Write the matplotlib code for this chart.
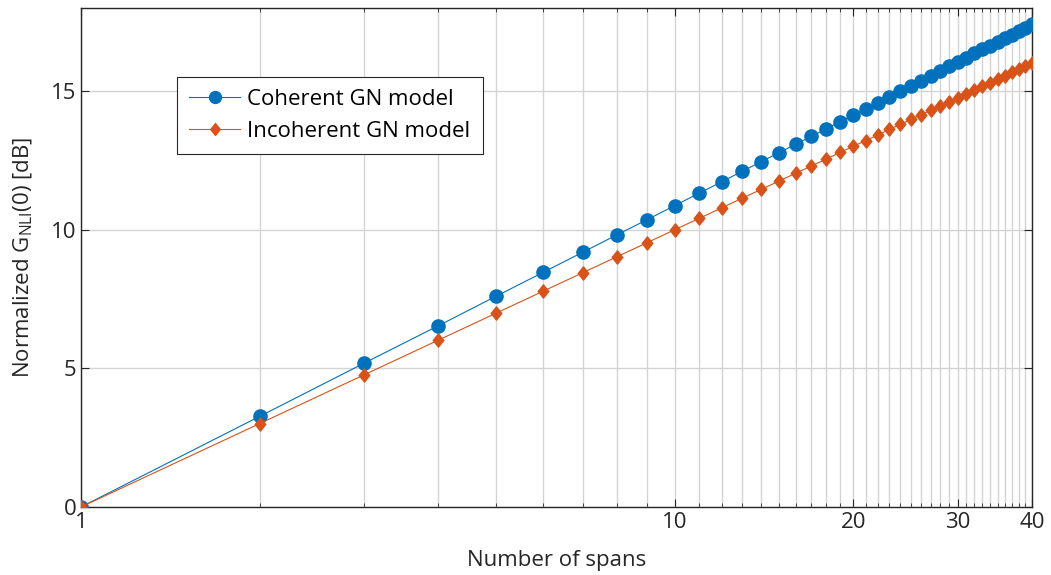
import numpy as np
import matplotlib.pyplot as plt
from matplotlib.path import Path
from matplotlib.ticker import FixedLocator, NullFormatter

plt.rcParams['font.family'] = ['Open Sans', 'DejaVu Sans']
plt.rcParams['font.size'] = 16

# Data
spans = list(range(1, 41))
coherent = [0.00, 3.27, 5.19, 6.54, 7.60, 8.46, 9.19, 9.82, 10.37, 10.87,
            11.32, 11.73, 12.11, 12.46, 12.78, 13.09, 13.37, 13.64, 13.90, 14.14,
            14.37, 14.59, 14.80, 15.00, 15.20, 15.38, 15.56, 15.73, 15.89, 16.05,
            16.21, 16.36, 16.51, 16.64, 16.78, 16.91, 17.04, 17.17, 17.29, 17.41]
incoherent = [0.00, 3.01, 4.77, 6.02, 6.99, 7.78, 8.45, 9.03, 9.54, 10.00,
              10.41, 10.79, 11.14, 11.46, 11.76, 12.04, 12.30, 12.55, 12.79, 13.01,
              13.22, 13.42, 13.62, 13.80, 13.98, 14.15, 14.31, 14.47, 14.62, 14.77,
              14.91, 15.05, 15.19, 15.31, 15.44, 15.56, 15.68, 15.80, 15.91, 16.02]
xticks_major = [1, 10, 20, 30, 40]
yticks = [0, 5, 10, 15]

# MATLAB-like diamond (wider than matplotlib's 'd')
diamond = Path([(0, 1), (0.8, 0), (0, -1), (-0.8, 0), (0, 1)],
               [Path.MOVETO, Path.LINETO, Path.LINETO, Path.LINETO, Path.CLOSEPOLY])

fig = plt.figure(figsize=(10.51, 5.75), dpi=100)
ax = fig.add_axes([81/1051, 68/575, 951/1051, 499/575])

ax.plot(spans, coherent, color='#0072BD', lw=0.8, marker='o', ms=9.5,
        label='Coherent GN model', zorder=3)
ax.plot(spans, incoherent, color='#D95319', lw=0.8, marker=diamond, ms=9.5,
        label='Incoherent GN model', zorder=4)

ax.set_xscale('log')
ax.set_xlim(1, 40)
ax.set_ylim(0, 18)
ax.xaxis.set_major_locator(FixedLocator(xticks_major))
ax.xaxis.set_minor_locator(FixedLocator(spans))
ax.xaxis.set_major_formatter(plt.FixedFormatter([str(t) for t in xticks_major]))
ax.xaxis.set_minor_formatter(NullFormatter())
ax.set_yticks(yticks)

ax.grid(True, which='both', axis='x', color='#d4d4d4', lw=1)
ax.grid(True, which='major', axis='y', color='#d4d4d4', lw=1)
ax.set_axisbelow(True)
ax.tick_params(which='both', direction='in', top=True, right=True, color='#262626')
ax.tick_params(which='major', length=6, width=0.8)
ax.tick_params(which='minor', length=3, width=0.6)
for s in ax.spines.values():
    s.set_color('#262626')
    s.set_linewidth(1)

ax.set_xlabel('Number of spans', fontsize=16, color='#262626', labelpad=12)
ax.set_ylabel(r'Normalized G$_\mathregular{NLI}$(0) [dB]', fontsize=16,
              color='#262626', labelpad=11)
ax.tick_params(labelcolor='#262626', labelsize=16)

leg = ax.legend(loc='upper left', bbox_to_anchor=(0.101, 0.862), borderaxespad=0,
                fancybox=False, edgecolor='#262626', framealpha=1,
                handlelength=2.3, handletextpad=0.32, fontsize=16,
                borderpad=0.55, labelspacing=0.5, markerscale=0.9)
leg.get_frame().set_linewidth(0.8)

fig.savefig('out.png', dpi=100)
